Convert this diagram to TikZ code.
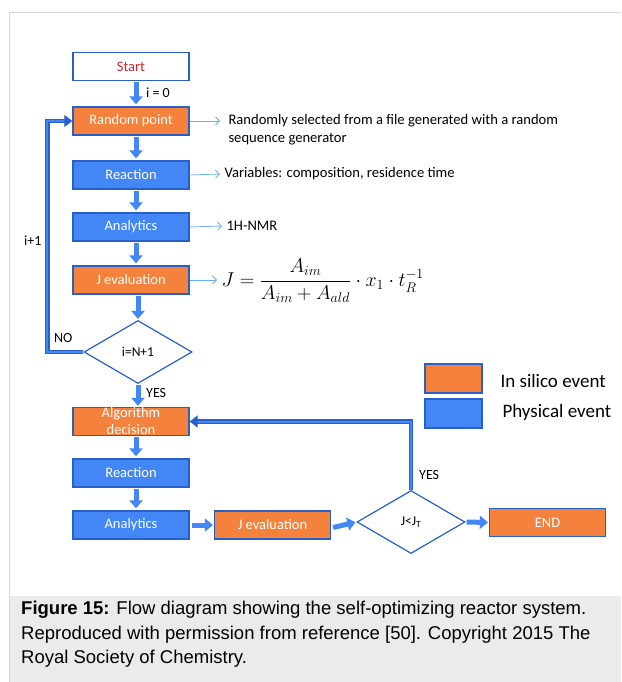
\RequirePackage{fix-cm}
\documentclass[tikz,border=0pt]{standalone}
\usepackage{amsmath}
\usepackage{fontspec}
\setmainfont{Carlito}
\newfontfamily\capfont{Liberation Sans}
\usetikzlibrary{arrows.meta,shapes.geometric}

\definecolor{boxorange}{RGB}{245,130,60}
\definecolor{boxblue}{RGB}{66,135,245}
\definecolor{edgeblue}{RGB}{40,95,200}
\definecolor{noteblue}{RGB}{110,175,240}
\definecolor{capgray}{RGB}{235,235,235}
\definecolor{framegray}{RGB}{215,215,215}
\definecolor{startred}{RGB}{210,40,50}

\tikzset{
  stepbox/.style={draw=edgeblue,line width=1.3pt,minimum width=116pt,minimum height=28pt,
    inner sep=0pt,text=white,font=\fontsize{14.5}{17}\selectfont,align=center},
  silico/.style={stepbox,fill=boxorange},
  physical/.style={stepbox,fill=boxblue},
  test/.style={diamond,draw=edgeblue,line width=1.2pt,fill=white,inner sep=0pt,aspect=1.7,
    minimum width=108pt,minimum height=63pt,font=\fontsize{13.5}{15}\selectfont},
  flow/.style={line width=5pt,draw=boxblue,-{Triangle[length=8pt,width=13pt]}},
  note/.style={draw=noteblue,line width=.8pt,-{Straight Barb[length=4pt,width=8pt]}},
  loopback/.style={draw=edgeblue,double=boxblue,double distance=2pt,line width=1.1pt,
    -{Triangle[length=8pt,width=12pt]}},
  lbl/.style={font=\fontsize{14}{15}\selectfont,inner sep=0pt}
}

\begin{document}
\begin{tikzpicture}[x=1pt,y=-1pt]
        % background
        \useasboundingbox (0,0) rectangle (621,682);
        \fill[capgray] (9,596) rectangle (621,682);
        \draw[framegray,line width=1pt] (9.5,682) -- (9.5,12.5) -- (621,12.5);
        % first loop
        \node[stepbox,fill=white,text=startred] (start) at (131,66.5) {Start};
        \node[silico]   (randpt) at (131,121) {Random point};
        \node[physical] (react1) at (131,175) {Reaction};
        \node[physical] (anal1)  at (131,227) {Analytics};
        \node[silico]   (jeval1) at (131,280) {J evaluation};
        \node[test]     (test1)  at (138,352) {i=N+1};
        % second part
        \node[silico]   (decide) at (131,421.5) {Algorithm\\decision};
        \node[physical] (react2) at (131,473) {Reaction};
        \node[physical] (anal2)  at (131,525) {Analytics};
        \node[silico]   (jeval2) at (272.5,525) {J evaluation};
        \node[test]     (test2)  at (411,522) {J<J\textsubscript{T}};
        \node[silico]   (finish) at (547.5,522.5) {END};
        % notes
        \node[anchor=west,align=left,font=\fontsize{14.6}{18}\selectfont] (note1) at (225,130)
            {Randomly selected from a file generated with a random\\sequence generator};
        \node[anchor=west,font=\fontsize{14.6}{16}\selectfont] (note2) at (221,174) {Variables: composition, residence time};
        \node[anchor=west,font=\fontsize{14.6}{16}\selectfont] (note3) at (223,226) {1H-NMR};
        \node[anchor=west,font=\fontsize{20}{22}\selectfont] (note4) at (218,281)
            {$J=\dfrac{A_{im}}{A_{im}+A_{ald}}\cdot x_1\cdot t_R^{-1}$};
        \draw[note] (randpt.east) -- ([xshift=-5pt]randpt.east -| note1.west);
        \foreach \a/\b in {react1/note2,anal1/note3}
          \draw[note] (\a.east) -- ([xshift=-1pt]\b.west);
        \draw[note] (jeval1.east) -- ([xshift=-1pt]jeval1.east -| note4.west);
        % legend
        \node[stepbox,minimum width=57pt,minimum height=29pt,fill=boxorange] (leg1) at (453.5,378.5) {};
        \node[stepbox,minimum width=57pt,minimum height=29pt,fill=boxblue] (leg2) at (453.5,413.5) {};
        \node[anchor=west,font=\fontsize{19}{21}\selectfont] (leg1t) at (497,381) {In silico event};
        \node[anchor=west,font=\fontsize{19}{21}\selectfont] (leg2t) at (499,412) {Physical event};
        % arrows
        \foreach \a/\b in {start/randpt,randpt/react1,react1/anal1,anal1/jeval1,decide/react2,react2/anal2}
          \draw[flow,shorten >=2pt,shorten <=1pt] ([xshift=5pt]\a.south) -- ([xshift=5pt]\b.north);
        \draw[flow,shorten >=1pt,shorten <=1pt] ([xshift=7pt]jeval1.south) -- (test1.north);
        \draw[flow,shorten >=1pt,shorten <=1pt] (test1.south) -- ([xshift=7pt]decide.north);
        \draw[flow,shorten >=1pt,shorten <=2pt] (anal2.east) -- (jeval2.west);
        \draw[flow,shorten >=1pt,shorten <=2pt] ([yshift=-3pt]jeval2.east) -- (test2.west);
        \draw[flow,shorten >=1pt,shorten <=1pt] (test2.east) -- (finish.west);
        \draw[loopback] (test1.west) -- ++(-36,0) |- (randpt.west);
        \draw[loopback] (test2.north) |- (decide.east);
        % labels
        \node[lbl,anchor=west] (lbl1) at (146,93) {i = 0};
        \node[lbl,anchor=west] (lbl2) at (54,338) {NO};
        \node[lbl,anchor=west] (lbl3) at (24,241) {i+1};
        \node[lbl,anchor=west] (lbl4) at (146,393) {YES};
        \node[lbl,anchor=west] (lbl5) at (419,475) {YES};
        % caption
        \node[anchor=north west,align=left,inner sep=0pt,font=\capfont\fontsize{18.5}{24.5}\selectfont] (cap) at (21,601)
            {\textbf{Figure 15:} Flow diagram showing the self-optimizing reactor system.\\
             Reproduced with permission from reference [50]. Copyright 2015 The\\
             Royal Society of Chemistry.};
      \end{tikzpicture}
\end{document}
